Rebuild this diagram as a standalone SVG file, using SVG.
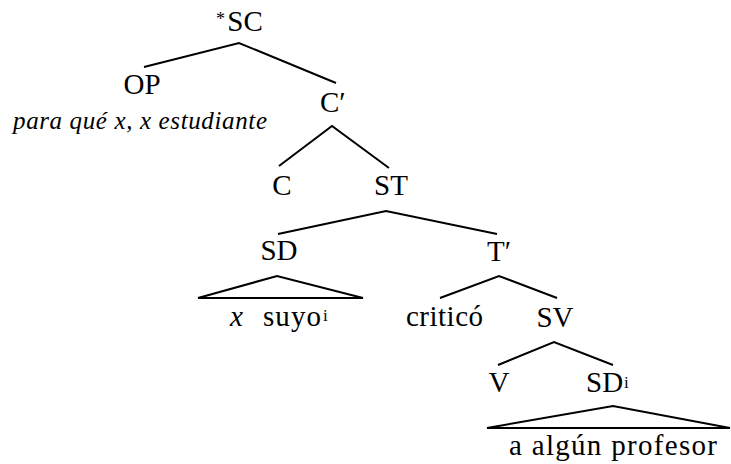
<svg xmlns="http://www.w3.org/2000/svg" width="731" height="464" viewBox="0 0 731 464">
  <style>
    .t { font-family: "Liberation Serif", "Times New Roman", serif; font-size: 29px; fill: #000; }
    .c { text-anchor: middle; }
    .it { font-style: italic; }
    .sup { font-size: 17px; }
    .e { fill: none; stroke: #000; stroke-width: 2; stroke-linejoin: miter; }
  </style>
  <rect width="731" height="464" fill="#fff"/>
  <g id="connectors">
    <polyline class="e" points="144,67 239,43 336,83"/>
    <polyline class="e" points="279,166 332,126 389,168"/>
    <polyline class="e" points="278,234 386,211 497,234"/>
    <polygon class="e" points="198,298 277,276 363,298"/>
    <polyline class="e" points="440,298 499,276 557,298"/>
    <polyline class="e" points="498,365 554,342 613,365"/>
    <polygon class="e" points="487,428 613,406 730,428"/>
  </g>
  <g id="SC">
    <text class="t" x="216" y="25" style="font-size:18px">*</text>
    <text class="t c" x="245" y="31">SC</text>
  </g>
  <g id="OP">
    <text class="t c" x="142" y="94">OP</text>
    <text class="t it" x="13" y="129" style="font-size:25px" textLength="254" lengthAdjust="spacing">para qué x, x estudiante</text>
  </g>
  <g id="Cbar">
    <text class="t" x="320" y="112">C′</text>
  </g>
  <g id="C">
    <text class="t c" x="282" y="195">C</text>
  </g>
  <g id="ST">
    <text class="t c" x="391" y="195">ST</text>
  </g>
  <g id="SD">
    <text class="t c" x="279" y="260">SD</text>
    <text class="t it" x="230" y="326">x</text>
    <text class="t" x="263" y="326" textLength="58" lengthAdjust="spacing">suyo</text>
    <text class="t sup" x="323" y="321">i</text>
  </g>
  <g id="Tbar">
    <text class="t" x="487" y="261">T′</text>
  </g>
  <g id="critico">
    <text class="t" x="406" y="326" textLength="77" lengthAdjust="spacing">criticó</text>
  </g>
  <g id="SV">
    <text class="t c" x="555" y="327">SV</text>
  </g>
  <g id="V">
    <text class="t c" x="499" y="392">V</text>
  </g>
  <g id="SDi">
    <text class="t" x="586" y="392">SD</text>
    <text class="t sup" x="624" y="388">i</text>
    <text class="t" x="509" y="455" textLength="208" lengthAdjust="spacing">a algún profesor</text>
  </g>
</svg>
